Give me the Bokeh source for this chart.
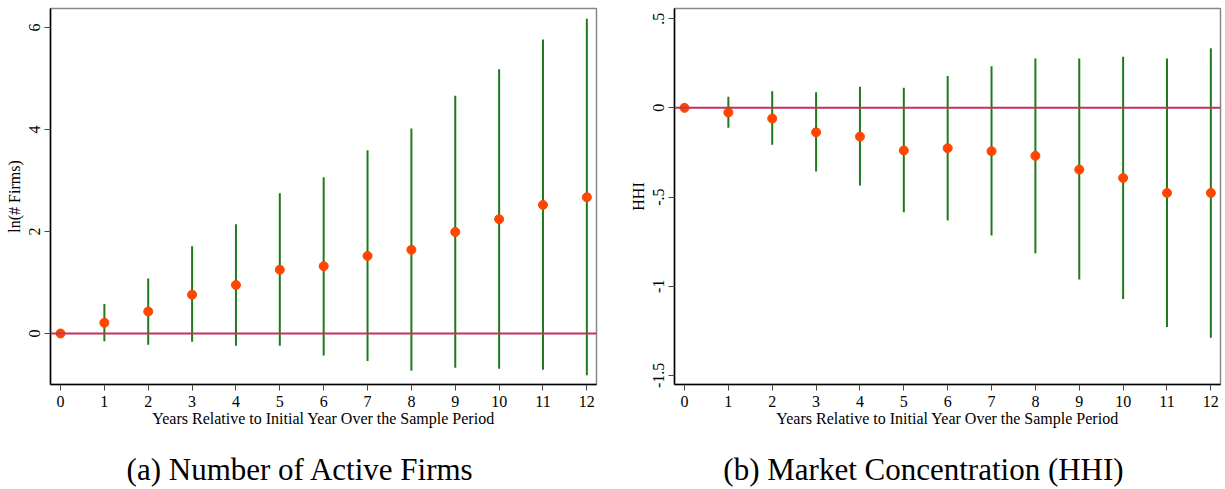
import math
from bokeh.plotting import figure
from bokeh.layouts import row, column
from bokeh.models import Span, FixedTicker, Range1d, Label
from bokeh.embed import file_html
from bokeh.resources import INLINE

years = list(range(13))

firms_est = [0.0, 0.21, 0.43, 0.76, 0.95, 1.25, 1.32, 1.52, 1.64, 1.99, 2.24, 2.52, 2.67]
firms_hi = [0.0, 0.58, 1.08, 1.71, 2.14, 2.75, 3.06, 3.59, 4.02, 4.66, 5.18, 5.76, 6.17]
firms_lo = [0.0, -0.15, -0.22, -0.16, -0.24, -0.24, -0.43, -0.54, -0.73, -0.67, -0.69, -0.71, -0.82]

hhi_est = [0.0, -0.026, -0.06, -0.137, -0.161, -0.239, -0.226, -0.243, -0.269, -0.346, -0.393, -0.477, -0.477]
hhi_hi = [0.0, 0.062, 0.093, 0.087, 0.119, 0.112, 0.179, 0.233, 0.276, 0.276, 0.286, 0.276, 0.334]
hhi_lo = [0.0, -0.112, -0.207, -0.357, -0.436, -0.585, -0.632, -0.716, -0.815, -0.962, -1.071, -1.228, -1.289]

firms_ticks = [0, 2, 4, 6]
firms_tick_labels = {0: "0", 2: "2", 4: "4", 6: "6"}
hhi_ticks = [0.5, 0, -0.5, -1, -1.5]
hhi_tick_labels = {0.5: ".5", 0: "0", -0.5: "-.5", -1: "-1", -1.5: "-1.5"}

x_label = "Years Relative to Initial Year Over the Sample Period"
captions = ["(a) Number of Active Firms", "(b) Market Concentration (HHI)"]

FONT = "Liberation Serif"
GREEN = "#1f7a1f"
ORANGE = "#ff4500"
ZERO = "#c3325a"
PLOT_H = 440
CAP_H = 49


def panel(est, lo, hi, yr, yticks, ylabels, ylab, width, bl, br):
    p = figure(width=width, height=PLOT_H, output_backend="svg", toolbar_location=None,
               x_range=Range1d(-0.228, 12.22), y_range=Range1d(*yr),
               min_border_left=bl, min_border_right=br, min_border_top=8,
               min_border_bottom=56)
    p.grid.visible = False
    p.outline_line_color = "#888888"
    p.outline_line_width = 1.5
    p.background_fill_color = "white"
    p.border_fill_color = "white"

    p.add_layout(Span(location=0, dimension="width", line_color=ZERO, line_width=2))
    p.segment(x0=years[1:], y0=lo[1:], x1=years[1:], y1=hi[1:],
              line_color=GREEN, line_width=2)
    p.scatter(years, est, size=9, fill_color=ORANGE, line_color=ORANGE)

    xa = p.xaxis[0]
    xa.ticker = FixedTicker(ticks=years)
    xa.axis_label = x_label
    xa.axis_label_text_font = FONT
    xa.axis_label_text_font_style = "normal"
    xa.axis_label_text_font_size = "16px"
    xa.axis_label_text_color = "black"
    xa.axis_label_standoff = 0
    xa.major_label_text_font = FONT
    xa.major_label_text_font_size = "16px"
    xa.major_label_text_color = "black"
    xa.major_label_standoff = 5
    xa.major_tick_out = 6
    xa.major_tick_in = 0
    xa.minor_tick_out = 0
    xa.minor_tick_in = 0
    xa.axis_line_width = 1.5
    xa.axis_line_color = "black"
    xa.major_tick_line_color = "#444444"

    ya = p.yaxis[0]
    ya.ticker = FixedTicker(ticks=yticks)
    ya.major_label_overrides = ylabels
    ya.major_label_orientation = "vertical"
    ya.axis_label = ylab
    ya.axis_label_text_font = FONT
    ya.axis_label_text_font_style = "normal"
    ya.axis_label_text_font_size = "16px"
    ya.axis_label_text_color = "black"
    ya.axis_label_standoff = 4
    ya.major_label_text_font = FONT
    ya.major_label_text_font_size = "16px"
    ya.major_label_text_color = "black"
    ya.major_label_standoff = 4
    ya.major_tick_out = 6
    ya.major_tick_in = 0
    ya.minor_tick_out = 0
    ya.minor_tick_in = 0
    ya.axis_line_width = 1.5
    ya.axis_line_color = "black"
    ya.major_tick_line_color = "#444444"
    return p


def caption_fig(text, width, cx):
    c = figure(width=width, height=CAP_H, output_backend="svg", toolbar_location=None,
               x_range=Range1d(0, width), y_range=Range1d(0, CAP_H),
               min_border=0, min_border_left=0, min_border_right=0,
               min_border_top=0, min_border_bottom=0)
    c.axis.visible = False
    c.grid.visible = False
    c.outline_line_color = None
    c.background_fill_color = "white"
    c.border_fill_color = "white"
    c.add_layout(Label(x=cx, y=20, x_units="screen", y_units="screen", text=text,
                       text_align="center", text_baseline="middle", text_font=FONT,
                       text_font_size="31px", text_color="black"))
    return c


p1 = panel(firms_est, firms_lo, firms_hi, (-1.0, 6.37), firms_ticks, firms_tick_labels,
           "ln(# Firms)", 612, 50, 16)
p2 = panel(hhi_est, hhi_lo, hhi_hi, (-1.551, 0.557), hhi_ticks, hhi_tick_labels,
           "HHI", 613, 62, 5)
c1 = caption_fig(captions[0], 612, 250)
c2 = caption_fig(captions[1], 613, 249)

layout = row(column(p1, c1, spacing=0), column(p2, c2, spacing=0), spacing=0)
open("out.html", "w").write(file_html(layout, INLINE))
